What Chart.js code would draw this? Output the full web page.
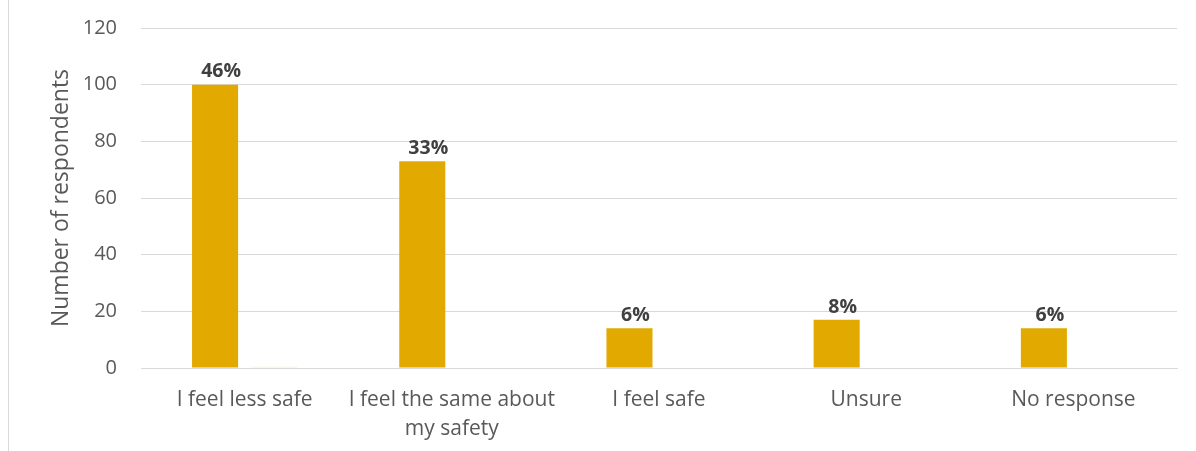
<!DOCTYPE html>
<html>
<head>
<meta charset="utf-8">
<script src="https://cdn.jsdelivr.net/npm/chart.js@4"></script>
<style>
  html, body { margin: 0; padding: 0; background: #fff; }
  #wrap { position: relative; width: 1196px; height: 451px; }
  #wrap:before { content: ""; position: absolute; left: 8px; top: 0; bottom: 0; border-left: 1px solid #d9d9d9; }
</style>
</head>
<body>
<div id="wrap"><canvas id="chart1" width="1196" height="451"></canvas></div>
<script>
// categorias y valores
var categories = ["I feel less safe", ["I feel the same about", "my safety"], "I feel safe", "Unsure", "No response"];
var respondents = [100, 73, 14, 17, 14];
var otherSeries = [0.4, 0, 0, 0, 0];
var percentLabels = ["46%", "33%", "6%", "8%", "6%"];
var yTicks = [0, 20, 40, 60, 80, 100, 120];

var fontFamily = "'Open Sans', sans-serif";

// etiquetas de porcentaje encima de las barras
var barLabels = {
    id: "barLabels",
    afterDatasetsDraw: function(chart) {
        var ctx = chart.ctx;
        var meta = chart.getDatasetMeta(0);
        ctx.save();
        ctx.font = "bold 19.5px " + fontFamily;
        ctx.fillStyle = "#404040";
        ctx.textAlign = "center";
        ctx.textBaseline = "bottom";
        meta.data.forEach(function(bar, i) {
            ctx.fillText(percentLabels[i], bar.x + 6, bar.y - 3);
        });
        ctx.restore();
    }
};

document.addEventListener("DOMContentLoaded", function() {
    var ctx1 = document.getElementById("chart1").getContext("2d");
    var chart1 = new Chart(ctx1, {
        type: "bar",
        data: {
            labels: categories,
            datasets: [{
                label: "Respondents",
                data: respondents,
                backgroundColor: "#E2AA00",
                barPercentage: 0.78,
                categoryPercentage: 0.57
            }, {
                label: "Other",
                data: otherSeries,
                backgroundColor: "#FCEBD3",
                barPercentage: 0.78,
                categoryPercentage: 0.57
            }]
        },
        options: {
            responsive: false,
            animation: false,
            layout: { padding: { left: 48, right: 19, top: 28, bottom: 4 } },
            plugins: {
                legend: { display: false },
                tooltip: { enabled: false }
            },
            scales: {
                y: {
                    min: 0,
                    max: 120,
                    afterBuildTicks: function(scale) {
                        scale.ticks = yTicks.map(function(v) { return { value: v }; });
                    },
                    afterFit: function(scale) {
                        scale.width = 93;
                        scale.paddingTop = 0;
                        scale.paddingBottom = 0;
                    },
                    grid: { color: "#d9d9d9", lineWidth: 1, drawTicks: false },
                    border: { display: false },
                    ticks: {
                        padding: 24,
                        color: "#595959",
                        font: { family: fontFamily, size: 20 }
                    },
                    title: {
                        display: true,
                        text: "Number of respondents",
                        color: "#595959",
                        padding: { top: 0, bottom: 8 },
                        font: { family: fontFamily, size: 23 }
                    }
                },
                x: {
                    afterFit: function(scale) { scale.height = 79; },
                    grid: { display: false, drawTicks: false },
                    border: { display: true, color: "#d9d9d9", width: 1 },
                    ticks: {
                        padding: 17,
                        autoSkip: false,
                        color: "#595959",
                        maxRotation: 0,
                        font: { family: fontFamily, size: 21, lineHeight: 1.4 }
                    }
                }
            }
        },
        plugins: [barLabels]
    });
});
</script>
</body>
</html>
